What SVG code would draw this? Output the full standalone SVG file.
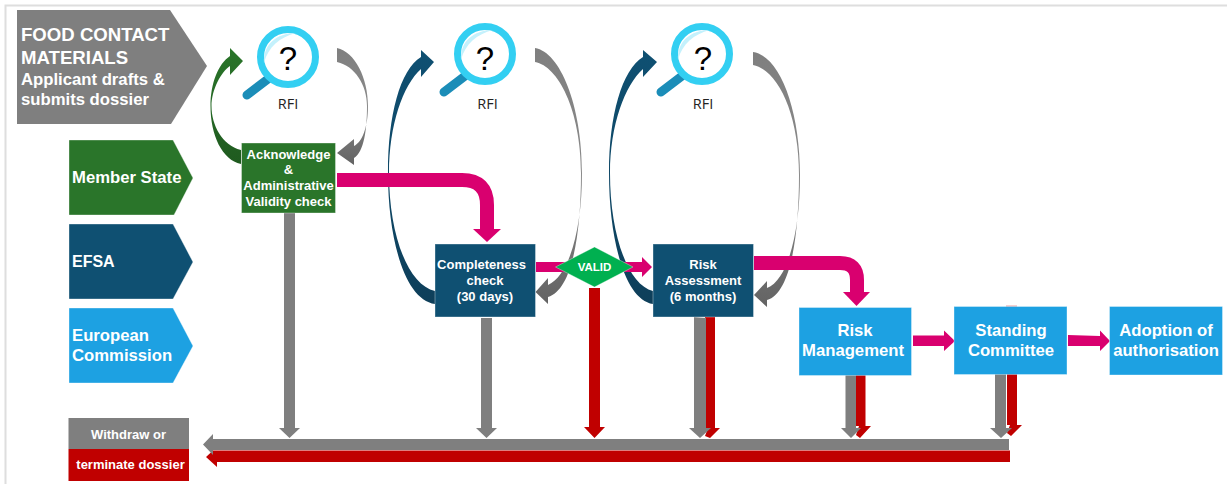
<svg xmlns="http://www.w3.org/2000/svg" width="1227" height="484" viewBox="0 0 1227 484">
<style>
text{font-family:"Liberation Sans",Arial,sans-serif;font-weight:700;fill:#fff;}
.c{text-anchor:middle;}
.rfi{font-family:"Open Sans",sans-serif;font-weight:400;fill:#222;font-size:14.500px;text-anchor:middle;}
.q{font-weight:400;fill:#000;font-size:33px;text-anchor:middle;}
.g{fill:#7f7f7f}.r{fill:#c00000}.m{fill:#d9006f}
.bm{fill:none;stroke:#d9006f;stroke-width:14}
.s{stroke:#fff;stroke-opacity:.35;stroke-width:1}
.ring{fill:#fff;stroke:#33cff2;stroke-width:7}
.crescent{fill:#c4f1fc}
.handle{stroke:#1b8db8;stroke-width:9;stroke-linecap:round;fill:none}
.t13{font-size:13px}.t16{font-size:16.700px}
</style>
<defs>
<linearGradient id="gr" x1="0" y1="0" x2="0" y2="1"><stop offset="0" stop-color="#7f7f7f"/><stop offset=".5" stop-color="#8a8a8a"/><stop offset="1" stop-color="#636363"/></linearGradient>
<linearGradient id="gn" x1="0" y1="1" x2="0" y2="0"><stop offset="0" stop-color="#1f5a1f"/><stop offset="1" stop-color="#2a752a"/></linearGradient>
<linearGradient id="bl" x1="0" y1="1" x2="0" y2="0"><stop offset="0" stop-color="#0e3f5a"/><stop offset="1" stop-color="#0f5072"/></linearGradient>
<g id="lens">
<path class="handle" d="M-20,22 L-41,38"/>
<circle class="ring" r="27.500"/>
<path class="crescent" d="M-24,6 C-25,-12 -12,-24 8,-24 C-8,-20 -20,-10 -24,6Z"/>
</g>
</defs>
<path d="M5.500,484 V5.500 H1227" fill="none" stroke="#dedede" stroke-width="2"/>

<g id="connectors">
<!-- RFI loops -->
<path fill="url(#gn)" d="M241,164 C222,160 210.500,135 210.500,106 C210.500,84 218,64 230,56 L230,48 L243,61 L230,75 L230,66 C221,72 211.500,90 211.500,106 C211.500,125 222,145 241,150Z"/>
<path fill="url(#gr)" d="M337,48 C355,52 368,78 368,106 C368,128 362,142 354,146 L354,139 L337,153 L354,165 L354,158 C364,152 367,130 367,106 C367,85 355,66 337,62Z"/>
<path fill="url(#bl)" d="M435,304 C405,300 388,240 388,173 C388,115 400,70 421,57 L421,50 L434,62 L421,77 L421,69 C403,85 389,125 389,173 C389,235 408,285 435,291Z"/>
<path fill="url(#gr)" d="M535,48 C560,52 582,105 582,173 C582,228 570,275 548,285 L548,278 L535.500,292 L548,304 L548,297 C572,290 581,235 581,173 C581,110 558,66 535,62Z"/>
<path fill="url(#bl)" d="M653,304 C625,300 609,240 609,173 C609,115 622,70 643,57 L643,50 L657,62 L643,77 L643,69 C625,85 610,125 610,173 C610,235 628,285 653,291Z"/>
<path fill="url(#gr)" d="M753,52 C780,56 800,110 800,175 C800,232 788,280 767,288 L767,281 L754,295 L767,307 L767,300 C790,294 799,238 799,175 C799,114 778,70 753,65Z"/>
<!-- pink flow -->
<path class="bm" d="M337,180 H462 Q487,180 487,205 V230"/>
<polygon class="m" points="473,229 501,229 487,242"/>
<path class="m" d="M536,262 H575 V272 H536Z"/>
<polygon class="m" points="615,262 642,262 642,257 652,267 642,277 642,272 615,272"/>
<path class="bm" d="M754,263 H840 Q857,263 857,280 V293"/>
<polygon class="m" points="843,292 870,292 856.500,306"/>
<polygon class="m" points="913,335.500 944,335.500 944,330.500 955,341 944,351 944,346 913,346"/>
<polygon class="m" points="1068,335 1100,336 1100,330.500 1110,341 1100,351 1100,346 1068,346"/>
<!-- withdraw -->
<polygon class="g" points="284,213 295,213 295,428 300,428 289.500,438 279,428 284,428"/>
<polygon class="g" points="481,318 492,318 492,428 497,428 486.500,438 476,428 481,428"/>
<polygon class="r" points="589,288 600,288 600,427 605,427 594.500,438 584,427 589,427"/>
<polygon class="r" points="705,317 715,317 715,428 720,428 710,438 705,436 708,428 705,428"/>
<polygon class="g" points="694,317 706,318 706,428 711,428 700,438 689,428 694,428"/>
<polygon class="r" points="856,375 865.500,375 865.500,426 871,426 860,438 856,435 859,426 856,426"/>
<polygon class="g" points="845.500,375 856,375 856,428 861,428 851,438 841,428 845.500,428"/>
<polygon class="r" points="1007,374 1017,374 1017,425 1022,425 1011,436 1007,433 1010,425 1007,425"/>
<polygon class="g" points="995,374 1006,374 1006,428 1012,428 1001,438 990,428 995,428"/>
<polygon class="r" points="1010,450.500 1010,462 217,462 217,467 206,457 213,450.500"/>
<polygon class="g" points="1009,439 1009,450 213,450 213,455 203,444.500 213,434 213,439"/>
<rect x="1006" y="305.500" width="11" height="2" fill="#f0a0a0"/>
</g>

<g id="applicant"><polygon class="g" points="17,10 170,10 207,66 171,124 17,124"/>
<text x="21" y="41" font-size="18.600">FOOD CONTACT</text><text x="21" y="64" font-size="18.600">MATERIALS</text><text x="21" y="85" font-size="16.700">Applicant drafts &amp;</text><text x="21" y="105" font-size="16.700">submits dossier</text></g>
<g id="member-state"><polygon points="69,140 173,140 193,178 174,215 69,215" fill="#2a752a" class="s"/><text x="72" y="183" font-size="16.700">Member State</text></g>
<g id="efsa"><polygon points="69,224 173,224 193,262 173,299 69,299" fill="#0f5072" class="s"/><text x="72" y="267" font-size="16">EFSA</text></g>
<g id="european-commission"><polygon points="69,308 173,308 193,346 173,383 69,383" fill="#1da1e2" class="s"/><text x="72" y="341" font-size="16.700">European</text><text x="72" y="361" font-size="16.700">Commission</text></g>

<g id="rfi-1"><use href="#lens" x="288" y="57"/><text class="q" x="288" y="70">?</text><text class="rfi" x="288" y="109">RFI</text></g>
<g id="rfi-2"><use href="#lens" x="485" y="54"/><text class="q" x="485" y="70">?</text><text class="rfi" x="487.500" y="109">RFI</text></g>
<g id="rfi-3"><use href="#lens" x="702" y="54"/><text class="q" x="703" y="70">?</text><text class="rfi" x="703" y="109">RFI</text></g>

<g id="acknowledge"><rect x="241.500" y="143" width="94" height="70" fill="#2a752a" class="s"/>
<g class="c" font-size="13"><text x="288.500" y="159">Acknowledge</text><text x="288.500" y="174">&amp;</text><text x="288.500" y="190">Administrative</text><text x="288.500" y="206">Validity check</text></g></g>
<g id="completeness"><rect x="435" y="244" width="100.500" height="73" fill="#0f5072" class="s"/>
<g class="c" font-size="13"><text x="481.500" y="269">Completeness</text><text x="485" y="285">check</text><text x="485" y="300.500">(30 days)</text></g></g>
<g id="valid"><polygon points="555.500,267 594.500,247 633,267 594.500,287" fill="#00b050" class="s"/><text class="c" x="594.500" y="271" font-size="11.500">VALID</text></g>
<g id="risk-assessment"><rect x="653" y="244" width="100.500" height="73" fill="#0f5072" class="s"/>
<g class="c" font-size="13"><text x="703" y="269">Risk</text><text x="703" y="285">Assessment</text><text x="703" y="300.500">(6 months)</text></g></g>
<g id="risk-management"><rect x="799" y="307.500" width="112.500" height="68" fill="#1da1e2" class="s"/>
<g class="c t16"><text x="855" y="336">Risk</text><text x="853" y="356">Management</text></g></g>
<g id="standing-committee"><rect x="954" y="306.500" width="113" height="68" fill="#1da1e2" class="s"/>
<g class="c t16"><text x="1011" y="336">Standing</text><text x="1011" y="356">Committee</text></g></g>
<g id="adoption"><rect x="1109.500" y="306.500" width="113" height="68.500" fill="#1da1e2" class="s"/>
<g class="c t16"><text x="1166" y="336">Adoption of</text><text x="1166" y="356">authorisation</text></g></g>
<g id="legend-withdraw"><rect x="68.500" y="418" width="120.500" height="31" fill="#7f7f7f"/><text class="c t13" x="128.500" y="439">Withdraw or</text></g>
<g id="legend-terminate"><rect x="68.500" y="449" width="120.500" height="32" fill="#c00000"/><text class="c t13" x="130.500" y="469">terminate dossier</text></g>
</svg>
